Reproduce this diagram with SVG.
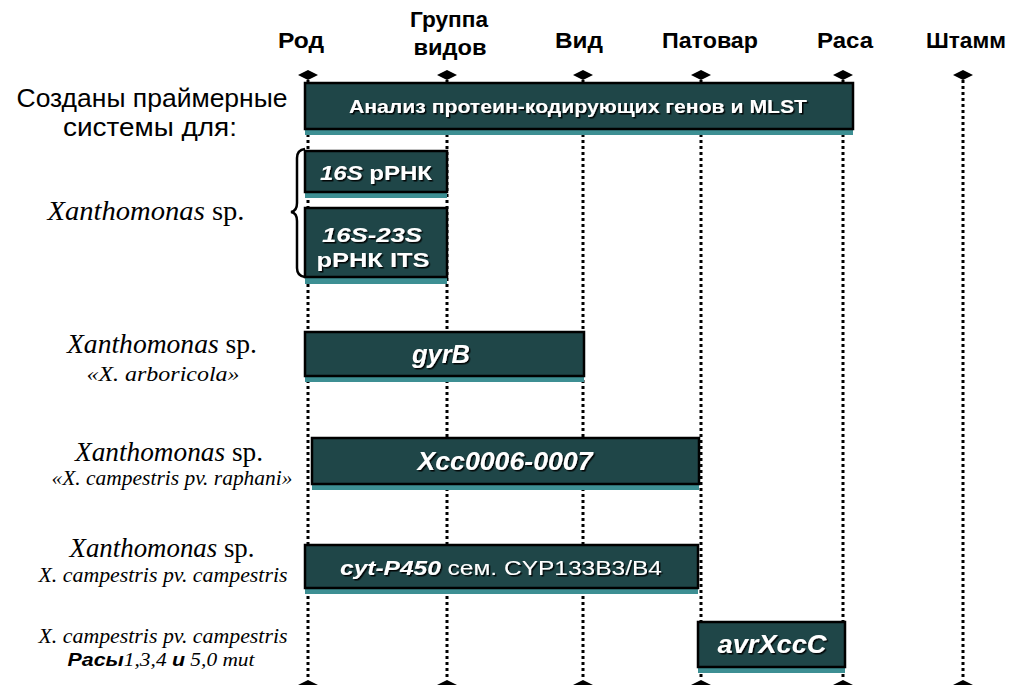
<svg xmlns="http://www.w3.org/2000/svg" width="1013" height="685" viewBox="0 0 1013 685">
<defs>
<style>
.hdr{font-family:"Liberation Sans",Arial,sans-serif;font-weight:bold;font-size:22px;fill:#000;text-anchor:middle}
.lbl{font-family:"Liberation Sans",Arial,sans-serif;font-size:25px;fill:#000;text-anchor:middle}
.ser{font-family:"Liberation Serif","Times New Roman",serif;fill:#000;text-anchor:middle}
.it{font-style:italic}
.bx{fill:#1f4648;stroke:#000;stroke-width:2.5}
.strip{fill:#3d8f93}
.bt{font-family:"Liberation Sans",Arial,sans-serif;font-weight:bold;fill:#fff;text-anchor:middle;filter:url(#sh)}
.dot{stroke:#000;stroke-width:3;stroke-dasharray:3 3;fill:none}
.dia{fill:#000}
</style>
<filter id="sh" x="-10%" y="-30%" width="120%" height="160%">
<feDropShadow dx="1.5" dy="1.5" stdDeviation="0.4" flood-color="#000" flood-opacity="0.9"/>
</filter>
</defs>
<rect width="1013" height="685" fill="#fff"/>

<g id="connectors">
<line class="dot" x1="308" y1="80" x2="308" y2="680"/>
<line class="dot" x1="447" y1="80" x2="447" y2="680"/>
<line class="dot" x1="583" y1="80" x2="583" y2="680"/>
<line class="dot" x1="701" y1="80" x2="701" y2="680"/>
<line class="dot" x1="843" y1="80" x2="843" y2="680"/>
<line class="dot" x1="963" y1="80" x2="963" y2="680"/>
<path class="dia" d="M298,75 L308,70 L318,75 L308,80 Z"/>
<path class="dia" d="M437,75 L447,70 L457,75 L447,80 Z"/>
<path class="dia" d="M573,75 L583,70 L593,75 L583,80 Z"/>
<path class="dia" d="M691,75 L701,70 L711,75 L701,80 Z"/>
<path class="dia" d="M833,75 L843,70 L853,75 L843,80 Z"/>
<path class="dia" d="M953,75 L963,70 L973,75 L963,80 Z"/>
<path class="dia" d="M298,685 L308,680 L318,685 L308,690 Z"/>
<path class="dia" d="M437,685 L447,680 L457,685 L447,690 Z"/>
<path class="dia" d="M573,685 L583,680 L593,685 L583,690 Z"/>
<path class="dia" d="M691,685 L701,680 L711,685 L701,690 Z"/>
<path class="dia" d="M833,685 L843,680 L853,685 L843,690 Z"/>
<path class="dia" d="M953,685 L963,680 L973,685 L963,690 Z"/>
<path d="M305,149 Q297,150 297,158 L297,203 Q297,211 291,212 Q297,213 297,221 L297,268 Q297,276 305,277" fill="none" stroke="#000" stroke-width="2.5"/>
</g>

<g id="headers">
<text class="hdr" x="301" y="48" textLength="46" lengthAdjust="spacingAndGlyphs">Род</text>
<text class="hdr" x="449" y="27" textLength="78" lengthAdjust="spacingAndGlyphs">Группа</text>
<text class="hdr" x="450" y="55" textLength="73" lengthAdjust="spacingAndGlyphs">видов</text>
<text class="hdr" x="579" y="48" textLength="48" lengthAdjust="spacingAndGlyphs">Вид</text>
<text class="hdr" x="710" y="48" textLength="96" lengthAdjust="spacingAndGlyphs">Патовар</text>
<text class="hdr" x="845" y="48" textLength="56" lengthAdjust="spacingAndGlyphs">Раса</text>
<text class="hdr" x="966" y="48" textLength="80" lengthAdjust="spacingAndGlyphs">Штамм</text>
</g>

<g id="left-labels">
<text class="lbl" x="152" y="107" textLength="271" lengthAdjust="spacingAndGlyphs">Созданы праймерные</text>
<text class="lbl" x="150" y="136" textLength="174" lengthAdjust="spacingAndGlyphs">системы для:</text>
<text class="ser" x="146" y="220" font-size="27" textLength="197" lengthAdjust="spacingAndGlyphs"><tspan class="it">Xanthomonas</tspan> sp.</text>
<text class="ser" x="162" y="353" font-size="27" textLength="190" lengthAdjust="spacingAndGlyphs"><tspan class="it">Xanthomonas</tspan> sp.</text>
<text class="ser it" x="163" y="381" font-size="22" textLength="153" lengthAdjust="spacingAndGlyphs">«X. arboricola»</text>
<text class="ser" x="169" y="461" font-size="27" textLength="188" lengthAdjust="spacingAndGlyphs"><tspan class="it">Xanthomonas</tspan> sp.</text>
<text class="ser it" x="172" y="485" font-size="20" textLength="241" lengthAdjust="spacingAndGlyphs">«X. campestris pv. raphani»</text>
<text class="ser" x="162" y="557" font-size="27" textLength="185" lengthAdjust="spacingAndGlyphs"><tspan class="it">Xanthomonas</tspan> sp.</text>
<text class="ser it" x="163" y="582" font-size="20" textLength="249" lengthAdjust="spacingAndGlyphs">X. campestris pv. campestris</text>
<text class="ser it" x="163" y="643" font-size="20" textLength="249" lengthAdjust="spacingAndGlyphs">X. campestris pv. campestris</text>
<text class="ser it" x="161" y="666" font-size="19" textLength="187" lengthAdjust="spacingAndGlyphs"><tspan font-family="Liberation Sans,Arial,sans-serif" font-weight="bold">Расы</tspan>1,3,4 <tspan font-family="Liberation Sans,Arial,sans-serif" font-weight="bold">и</tspan> 5,0 mut</text>
</g>

<g id="node-mlst">
<rect class="strip" x="305" y="129" width="548" height="6"/>
<rect class="bx" x="305" y="83" width="548" height="46"/>
<text class="bt" x="578" y="113" font-size="19" textLength="458" lengthAdjust="spacingAndGlyphs">Анализ протеин-кодирующих генов и MLST</text>
</g>

<g id="node-16s">
<rect class="strip" x="305" y="192" width="142" height="6"/>
<rect class="bx" x="305" y="151" width="142" height="41"/>
<text class="bt" x="376" y="180" font-size="21" textLength="112" lengthAdjust="spacingAndGlyphs"><tspan font-style="italic">16S</tspan> рРНК</text>
</g>

<g id="node-its">
<rect class="strip" x="305" y="277" width="142" height="7"/>
<rect class="bx" x="305" y="208" width="142" height="69"/>
<text class="bt" x="372" y="242" font-size="21" font-style="italic" textLength="100" lengthAdjust="spacingAndGlyphs">16S-23S</text>
<text class="bt" x="373" y="267" font-size="21" textLength="113" lengthAdjust="spacingAndGlyphs">рРНК ITS</text>
</g>

<g id="node-gyrb">
<rect class="strip" x="305" y="376" width="279" height="6"/>
<rect class="bx" x="305" y="332" width="279" height="44"/>
<text class="bt" x="441" y="363" font-size="25" font-style="italic" textLength="58" lengthAdjust="spacingAndGlyphs">gyrB</text>
</g>

<g id="node-xcc">
<rect class="strip" x="312" y="484" width="387" height="6"/>
<rect class="bx" x="312" y="438" width="387" height="46"/>
<text class="bt" x="505" y="470" font-size="25" font-style="italic" textLength="175" lengthAdjust="spacingAndGlyphs">Xcc0006-0007</text>
</g>

<g id="node-cyt">
<rect class="strip" x="305" y="588" width="393" height="6"/>
<rect class="bx" x="305" y="545" width="393" height="43"/>
<text class="bt" x="501" y="575" font-size="21" textLength="322" lengthAdjust="spacingAndGlyphs"><tspan font-style="italic">cyt-P450</tspan><tspan font-weight="normal"> сем. CYP133B3/B4</tspan></text>
</g>

<g id="node-avr">
<rect class="strip" x="698" y="667" width="147" height="6"/>
<rect class="bx" x="698" y="622" width="147" height="45"/>
<text class="bt" x="772" y="653" font-size="25" font-style="italic" textLength="109" lengthAdjust="spacingAndGlyphs">avrXccC</text>
</g>
</svg>
